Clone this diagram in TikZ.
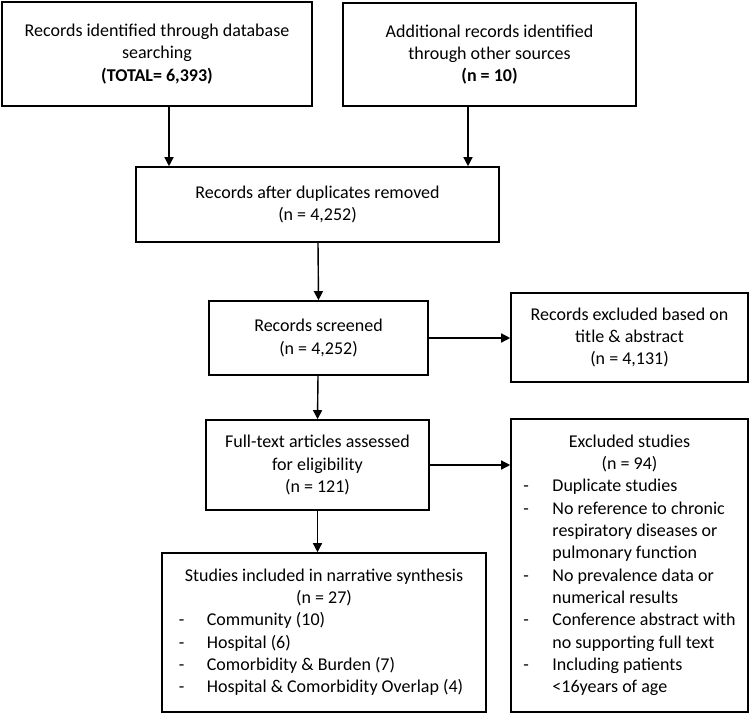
\documentclass[tikz,border=0pt]{standalone}
\usepackage{fontspec}
\setmainfont{Carlito}
\usepackage{array}
\usetikzlibrary{arrows.meta}

\begin{document}
\begin{tikzpicture}
            [x=1pt,y=-1pt,
             box/.style={draw,line width=1.6pt,inner sep=0pt,align=center,font=\fontsize{18}{22.3}\selectfont},
             listbox/.style={draw,line width=1.6pt,inner sep=0pt,font=\fontsize{18}{22.3}\selectfont},
             arr/.style={line width=1.4pt,-{Triangle[length=9pt,width=9pt]}}]
            \useasboundingbox (0,0) rectangle (751,714);
            % identification
            \node[box,minimum width=310,minimum height=104] (db) at (157,54)
                {Records identified through database\\searching\\\textbf{(TOTAL= 6,393)}};
            \node[box,minimum width=293,minimum height=103] (other) at (489.5,54.5)
                {Additional records identified\\through other sources\\\textbf{(n = 10)}};
            \node[box,minimum width=363,minimum height=75] (dup) at (317.5,204.5)
                {Records after duplicates removed\\(n = 4,252)};
            % screening
            \node[box,minimum width=219,minimum height=74] (screen) at (318.5,338)
                {Records screened\\(n = 4,252)};
            \node[box,minimum width=237,minimum height=89] (excl) at (629.5,337.5)
                {Records excluded based on\\title \& abstract\\(n = 4,131)};
            % eligibility
            \node[box,minimum width=223,minimum height=90] (full) at (317.5,465)
                {Full-text articles assessed\\for eligibility\\(n = 121)};
            \node[listbox,minimum width=237,minimum height=293] (exstud) at (629.5,565.5)
                {\begin{tabular}{@{}p{29pt}@{}l@{}}
                 \multicolumn{2}{c}{Excluded studies}\\
                 \multicolumn{2}{c}{(n = 94)}\\
                 - & Duplicate studies\\
                 - & No reference to chronic\\
                   & respiratory diseases or\\
                   & pulmonary function\\
                 - & No prevalence data or\\
                   & numerical results\\
                 - & Conference abstract with\\
                   & no supporting full text\\
                 - & Including patients\\
                   & <16years of age
                 \end{tabular}};
            % included
            \node[listbox,minimum width=324,minimum height=159] (incl) at (324,632.5)
                {\begin{tabular}{@{}p{28pt}@{}l@{}}
                 \multicolumn{2}{c}{Studies included in narrative synthesis}\\
                 \multicolumn{2}{c}{(n = 27)}\\
                 - & Community (10)\\
                 - & Hospital (6)\\
                 - & Comorbidity \& Burden (7)\\
                 - & Hospital \& Comorbidity Overlap (4)
                 \end{tabular}};
            % arrows
            \draw[arr] ([xshift=12pt]db.south) -- ([xshift=12pt]db.south |- dup.north);
            \draw[arr] ([xshift=-21.5pt]other.south) -- ([xshift=-21.5pt]other.south |- dup.north);
            \draw[arr] ([xshift=0.5pt]dup.south) -- (screen.north);
            \draw[arr] (screen.east) -- (screen.east -| excl.west);
            \draw[arr] ([xshift=-0.5pt]screen.south) -- (full.north);
            \draw[arr] (full.east) -- (full.east -| exstud.west);
            \draw[arr] (full.south) -- (full.south |- incl.north);
        \end{tikzpicture}
\end{document}
